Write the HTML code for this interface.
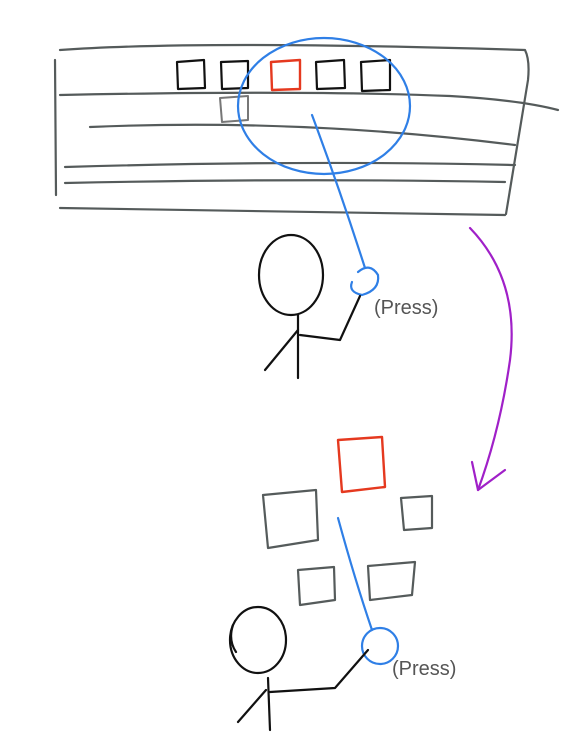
<!DOCTYPE html>
<html><head><meta charset="utf-8"><style>
html,body{margin:0;padding:0;background:#fff;}
svg{display:block;}
text{font-family:"Liberation Sans",sans-serif;}
</style></head><body>
<svg width="584" height="744" viewBox="0 0 584 744" xmlns="http://www.w3.org/2000/svg" fill="none" stroke-linecap="round" stroke-linejoin="round">
<g stroke="#555b5b" stroke-width="2.2">
<path d="M60 50 Q200 40 525 50 Q530 60 528 80 L506 214"/>
<path d="M60 208 Q300 212 505 215"/>
<path d="M55 60 L56 195"/>
<path d="M60 95 Q300 90 450 96 Q520 100 558 110"/>
<path d="M90 127 Q300 118 515 145"/>
<path d="M65 167 Q300 160 515 165"/>
<path d="M65 183 Q300 178 505 182"/>
</g>
<g stroke="#111" stroke-width="2.2">
<path d="M177 62 L204 60 L205 88 L178 89 Z"/>
<path d="M221 62 L248 61 L248 88 L222 89 Z"/>
<path d="M316 62 L344 60 L345 88 L317 89 Z"/>
<path d="M361 62 L390 60 L390 90 L362 91 Z"/>
</g>
<path d="M271 62 L300 60 L300 89 L272 90 Z" stroke="#e5391f" stroke-width="2.4"/>
<path d="M220 98 L248 96 L248 120 L222 122 Z" stroke="#777" stroke-width="2"/>
<g stroke="#2f7fe6" stroke-width="2.2">
<ellipse cx="324" cy="106" rx="86" ry="68"/>
<path d="M312 115 Q340 190 365 268"/>
<path d="M358 272 Q370 262 378 275 Q380 290 362 295 Q348 292 352 282"/>
</g>
<g stroke="#111" stroke-width="2.2">
<ellipse cx="291" cy="275" rx="32" ry="40"/>
<path d="M298 315 L298 378"/>
<path d="M298 330 L265 370"/>
<path d="M300 335 L340 340 L360 296"/>
</g>
<text x="374" y="314" font-size="20" fill="#555">(Press)</text>
<g stroke="#a020c8" stroke-width="2.2">
<path d="M470 228 Q520 280 510 360 Q500 430 478 490"/>
<path d="M472 462 L478 490 L505 470"/>
</g>
<path d="M338 440 L382 437 L385 487 L342 492 Z" stroke="#e5391f" stroke-width="2.4"/>
<g stroke="#555b5b" stroke-width="2.2">
<path d="M263 495 L316 490 L318 540 L268 548 Z"/>
<path d="M401 498 L432 496 L432 528 L404 530 Z"/>
<path d="M298 570 L334 567 L335 600 L300 605 Z"/>
<path d="M368 566 L415 562 L412 595 L370 600 Z"/>
</g>
<g stroke="#2f7fe6" stroke-width="2.2">
<path d="M338 518 Q355 580 372 630"/>
<ellipse cx="380" cy="646" rx="18" ry="18"/>
</g>
<g stroke="#111" stroke-width="2.2">
<ellipse cx="258" cy="640" rx="28" ry="33"/>
<path d="M233 625 Q228 640 236 652"/>
<path d="M268 678 L270 730"/>
<path d="M266 690 L238 722"/>
<path d="M270 692 L335 688 L368 650"/>
</g>
<text x="392" y="675" font-size="20" fill="#555">(Press)</text>
</svg>
</body></html>
